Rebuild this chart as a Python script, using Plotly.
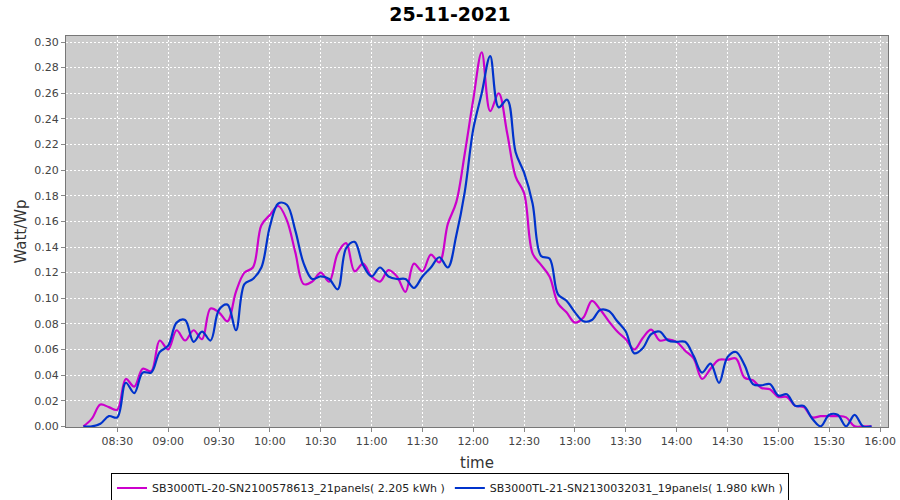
import pandas as pd
import plotly.graph_objects as go

title_text = "25-11-2021"
series_names = [
    "SB3000TL-20-SN2100578613_21panels( 2.205 kWh )",
    "SB3000TL-21-SN2130032031_19panels( 1.980 kWh )",
]
times = pd.date_range("2021-11-25 08:10", "2021-11-25 15:55", freq="5min")

magenta_vals = [
    0.000, 0.006, 0.017, 0.015, 0.013, 0.037, 0.031, 0.045, 0.043, 0.067,
    0.060, 0.075, 0.067, 0.075, 0.068, 0.092, 0.089, 0.082, 0.105, 0.120,
    0.124, 0.157, 0.165, 0.172, 0.161, 0.136, 0.111, 0.113, 0.120, 0.113,
    0.135, 0.143, 0.121, 0.127, 0.117, 0.113, 0.122, 0.117, 0.105, 0.127,
    0.121, 0.134, 0.128, 0.158, 0.175, 0.213, 0.255, 0.292, 0.246, 0.260,
    0.229, 0.195, 0.182, 0.135, 0.126, 0.117, 0.096, 0.089, 0.081, 0.085,
    0.098, 0.091, 0.082, 0.074, 0.068, 0.060, 0.069, 0.0755, 0.067, 0.068,
    0.066, 0.059, 0.053, 0.037, 0.045, 0.052, 0.052, 0.053, 0.038, 0.036,
    0.030, 0.029, 0.023, 0.023, 0.016, 0.015, 0.007, 0.008, 0.008, 0.008,
    0.007, 0.000, 0.000, 0.000,
]
blue_vals = [
    0.000, 0.000, 0.002, 0.008, 0.007, 0.034, 0.026, 0.042, 0.042, 0.058,
    0.063, 0.081, 0.083, 0.066, 0.074, 0.067, 0.091, 0.095, 0.075, 0.111,
    0.115, 0.124, 0.156, 0.174, 0.173, 0.153, 0.127, 0.115, 0.117, 0.115,
    0.107, 0.139, 0.144, 0.126, 0.117, 0.124, 0.117, 0.115, 0.115, 0.108,
    0.117, 0.124, 0.132, 0.124, 0.149, 0.183, 0.232, 0.260, 0.289, 0.249,
    0.255, 0.214, 0.198, 0.174, 0.133, 0.131, 0.103, 0.098, 0.089, 0.082,
    0.083, 0.091, 0.090, 0.082, 0.074, 0.057, 0.061, 0.072, 0.074, 0.067,
    0.066, 0.066, 0.055, 0.042, 0.049, 0.034, 0.054, 0.058, 0.048, 0.033,
    0.032, 0.033, 0.024, 0.025, 0.016, 0.016, 0.006, 0.000, 0.009, 0.009,
    0.000, 0.009, 0.000, 0.000,
]
tick_times = pd.date_range("2021-11-25 08:30", "2021-11-25 16:00", freq="30min")
tick_labels = [t.strftime("%H:%M") for t in tick_times]
y_ticks = [i * 0.02 for i in range(16)]

colors = ["#cc00cc", "#0033cc"]

fig = go.Figure()
for name, vals, col in zip(series_names, [magenta_vals, blue_vals], colors):
    fig.add_trace(go.Scatter(
        x=times, y=vals, name=name, mode="lines",
        line=dict(color=col, width=2.2, shape="spline", smoothing=1.0),
    ))

axis_font = dict(family="DejaVu Sans", size=11, color="#444444")
fig.update_layout(
    width=900, height=500,
    paper_bgcolor="white", plot_bgcolor="#cccccc",
    margin=dict(l=66, r=12, t=36, b=73, autoexpand=False),
    title=dict(text=title_text, x=0.5, xanchor="center", yref="container", y=0.972, yanchor="middle",
               font=dict(family="DejaVu Sans", size=19, color="black", weight="bold")),
    showlegend=True,
    legend=dict(orientation="h", x=0.5, xanchor="center", xref="container",
                yref="container", y=0.024, yanchor="middle",
                bordercolor="black", borderwidth=1, bgcolor="white",
                font=dict(family="DejaVu Sans", size=11, color="#222222"),
                itemwidth=30, tracegroupgap=0, traceorder="normal"),
)
fig.update_xaxes(
    range=[pd.Timestamp("2021-11-25 07:59:44"), pd.Timestamp("2021-11-25 16:04:42")],
    tickvals=tick_times, ticktext=tick_labels, tickfont=axis_font,
    ticks="outside", ticklen=4, tickcolor="#888888", automargin=False,
    showgrid=True, gridcolor="white", gridwidth=1, griddash="2px,2px",
    showline=True, linecolor="#777777", mirror=True, zeroline=False,
    title=dict(text="time", font=dict(family="DejaVu Sans", size=15, color="#333333"), standoff=10),
)
fig.update_yaxes(
    range=[-0.0005, 0.3047],
    tickvals=y_ticks, tickformat=".2f", tickfont=axis_font,
    ticks="outside", ticklen=4, tickcolor="#888888", automargin=False,
    showgrid=True, gridcolor="white", gridwidth=1, griddash="2px,2px",
    showline=True, linecolor="#777777", mirror=True, zeroline=False,
    title=dict(text="Watt/Wp", font=dict(family="DejaVu Sans", size=15, color="#333333"), standoff=4),
)
fig.write_html(
    "out.html",
    config={"displayModeBar": False},
    post_script="document.body.style.margin='0';document.body.style.overflow='hidden';",
)
